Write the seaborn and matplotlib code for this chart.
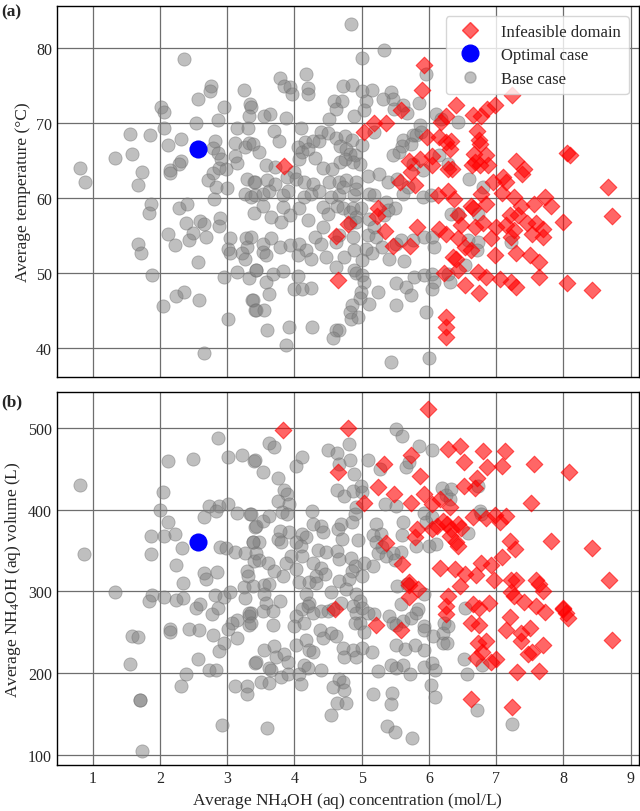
import pandas as pd
import numpy as np
import matplotlib
matplotlib.use('Agg')
import matplotlib.pyplot as plt
from matplotlib.lines import Line2D
import seaborn as sns

# data (x = NH4OH concentration, mol/L)
temp_base = [
    (2.36,78.6),(2.76,75.0),(2.74,74.3),(3.25,74.4),(2.57,73.2),(2.01,72.2),(2.06,71.5),(2.96,72.2),(3.34,72.6),(3.35,72.1),
    (3.32,70.9),(2.86,70.4),(2.53,70.0),(2.06,69.4),(3.14,69.3),(3.31,69.4),(1.55,68.5),(1.86,68.4),(2.31,67.9),(2.12,67.1),
    (2.82,67.6),(2.79,66.7),(2.86,66.0),(3.12,67.3),(3.26,66.8),(3.32,67.4),(3.38,67.2),(1.33,65.4),(1.59,65.9),(2.32,64.9),
    (2.28,64.5),(2.91,65.2),(3.11,65.6),(3.14,64.7),(0.81,64.0),(0.88,62.2),(1.73,63.5),(2.15,63.7),(2.15,63.4),(2.79,63.3),
    (2.88,64.0),(2.99,63.9),(2.72,62.4),(1.68,61.7),(3.30,62.6),(3.40,62.1),(2.84,61.5),(3.00,61.3),
    (1.87,59.2),(1.84,58.0),(2.29,58.7),(2.40,59.2),(2.81,59.9),(3.26,60.5),(3.35,60.2),(3.40,58.0),(2.39,56.6),(2.60,56.9),
    (2.66,56.5),(2.90,57.3),(2.88,56.3),(2.12,55.2),(2.50,55.3),(2.43,54.4),(2.69,54.8),(2.23,53.7),(3.05,54.7),(3.28,54.7),
    (3.30,53.4),(3.02,53.2),(3.05,52.6),(3.22,52.6),(3.27,51.8),(1.68,53.8),(1.72,52.7),(2.56,51.5),(3.14,50.1),(2.95,49.5),
    (3.32,49.3),(3.43,50.4),(1.89,49.7),(2.24,46.9),(2.36,47.4),(2.58,46.4),(2.04,45.6),(3.37,46.4),(3.41,45.0),(3.02,43.9),
    (2.66,39.3),
    (4.84,83.3),(5.34,79.8),(5.00,78.7),(3.79,76.0),(3.85,75.0),(3.94,74.8),(3.96,73.9),(4.18,76.5),(4.20,74.7),(4.21,73.9),
    (4.72,74.9),(4.85,75.1),(5.01,74.3),(5.16,74.4),(5.43,74.2),(5.46,73.2),(5.32,73.2),(4.59,73.0),(4.71,72.9),(4.62,71.9),
    (5.07,73.0),(5.04,71.7),(4.88,70.9),(5.48,71.9),(5.62,72.4),(5.67,71.3),(5.86,72.7),(5.96,76.5),(3.55,71.0),(3.64,71.2),
    (3.88,70.7),(4.51,70.6),(4.10,69.4),(3.70,68.9),(3.77,67.6),(4.40,68.8),(4.50,68.7),(4.62,68.0),(4.75,68.3),(4.86,67.7),
    (4.16,67.5),(4.27,67.6),(4.37,67.6),(5.00,67.1),(3.48,66.2),(4.05,66.8),(4.12,66.1),(4.21,66.6),(4.07,65.2),(4.30,65.3),
    (4.68,67.0),(4.77,66.6),(4.82,65.9),(4.90,65.7),(4.98,64.6),(4.87,64.8),(4.76,65.2),(4.68,64.8),(4.42,64.0),(4.56,63.9),
    (3.58,64.4),(3.71,64.2),(4.00,63.5),(3.89,62.8),(4.02,62.6),(3.42,62.2),(3.60,62.4),(3.71,61.9),(4.15,62.1),(4.28,61.9),
    (4.51,62.1),(4.66,62.2),(4.77,62.4),(4.92,62.2),(5.10,63.0),(5.26,63.2),(5.39,62.1),(5.53,62.6),(5.61,67.7),(5.76,68.4),
    (5.81,68.4),(5.74,67.2),(5.60,67.0),(5.55,66.1),(5.47,65.8),(5.87,69.8),(5.89,68.8),(5.19,68.8),(5.91,63.8),(5.76,64.6),
    (6.10,71.2),(6.18,70.6),(6.15,65.7),(6.44,70.1),(6.59,62.6),(6.28,64.6),
    (3.41,60.4),(3.53,60.6),(3.63,61.0),(3.83,60.4),(3.90,61.0),(3.53,59.0),(3.65,57.5),(3.80,56.8),(3.93,57.7),(3.83,58.8),
    (4.07,58.6),(4.15,60.1),(4.25,60.6),(4.37,61.0),(4.20,57.1),(4.42,58.8),(4.50,57.9),(4.64,59.0),(4.72,58.6),(4.82,58.1),
    (4.87,58.6),(4.99,58.6),(4.92,57.5),(4.54,60.1),(4.67,60.4),(4.89,60.4),(4.92,61.2),(4.72,61.5),(5.11,60.6),(5.19,60.4),
    (5.36,59.5),(5.49,58.6),(5.11,57.2),(5.34,57.7),(5.39,58.4),(5.61,60.6),(5.69,61.5),(5.91,60.2),(6.03,60.4),(3.36,54.8),
    (3.53,53.9),(3.65,54.6),(3.78,53.5),(3.93,53.7),(4.07,53.9),(4.17,53.0),(4.25,51.9),(4.05,52.4),(3.53,52.8),(3.58,52.4),
    (4.42,56.1),(4.30,54.8),(4.40,53.9),(4.47,52.1),(4.62,50.8),(4.74,52.1),(4.89,53.0),(5.01,51.7),(4.89,50.4),(4.92,50.0),
    (5.00,49.7),(5.04,48.8),(4.62,54.1),(4.67,55.0),(4.87,54.8),(4.82,56.6),(4.92,56.8),(5.09,55.0),(5.19,56.1),(5.21,54.8),
    (5.31,53.5),(5.16,52.6),(5.06,53.2),(5.41,51.9),(5.63,51.6),(5.51,53.9),(5.58,54.4),(5.76,54.4),(5.93,54.8),(6.05,54.8),
    (6.07,53.5),(3.43,50.4),(3.58,48.8),(3.68,49.9),(3.83,50.3),(3.63,47.2),(3.38,46.4),(3.43,45.0),(3.55,45.0),(4.00,47.9),
    (4.12,47.9),(4.25,48.0),(4.06,49.6),(4.99,47.5),(4.97,46.6),(5.11,45.9),(5.24,47.5),(4.86,45.7),(4.83,44.8),(4.84,43.9),
    (4.94,44.1),(5.51,48.7),(5.66,48.1),(5.73,47.0),(5.51,45.7),(5.78,49.5),(5.93,49.7),(6.05,49.9),(6.07,48.8),(6.04,47.9),
    (5.96,44.8),(3.59,42.4),(3.92,42.8),(4.26,42.8),(4.62,42.4),(4.67,42.4),(4.58,41.3),(3.88,40.4),(5.44,38.1),(6.00,38.7),
    (6.33,57.8),(6.43,57.9),(6.73,57.9),(6.58,54.4),(6.73,54.1),(6.71,53.0),(7.22,54.1),(6.53,51.0),(6.28,49.9),(6.31,48.8),
    (6.80,61.5),
]

temp_infeasible = [
    (5.92,77.8),(5.90,74.4),(5.59,71.7),(5.19,70.0),(5.36,70.0),(5.04,68.8),(5.97,68.2),(6.15,68.2),(6.25,67.5),(6.18,70.2),
    (6.25,70.9),(5.70,65.0),(5.87,65.2),(6.04,65.6),(6.04,64.4),(6.28,63.9),(5.74,63.5),(5.80,61.7),(5.57,62.2),(3.84,64.3),
    (7.24,73.8),(6.40,72.4),(6.65,71.1),(6.78,71.0),(6.87,71.9),(6.98,72.4),(6.71,69.0),(6.74,67.7),(6.76,67.2),(6.67,65.9),
    (6.85,65.7),(6.68,64.8),(6.76,64.4),(6.88,64.4),(6.64,64.4),(6.33,67.6),(6.31,66.6),(6.35,63.9),(7.30,65.0),(7.42,63.9),
    (7.39,63.2),(7.10,62.8),(7.15,62.2),(6.95,62.2),(8.06,66.0),(8.10,65.8),(8.66,61.5),
    (4.62,54.9),(4.79,56.5),(5.24,58.7),(5.23,57.6),(5.35,55.6),(5.47,53.6),(5.72,53.6),(5.82,56.1),(6.15,55.8),(6.25,55.2),
    (6.14,60.4),(4.65,49.1),(6.22,50.0),(6.25,44.1),(6.25,42.8),(6.25,41.4),
    (8.72,57.6),(8.00,56.8),(6.28,61.0),(6.38,59.9),(6.78,60.6),(6.85,59.2),(6.63,58.9),(6.65,58.6),(7.08,60.7),(7.27,60.2),
    (7.37,59.0),(7.57,59.2),(7.72,60.1),(7.81,59.0),(7.20,57.7),(7.32,57.7),(6.43,57.7),(6.48,56.4),(6.68,56.1),(6.80,56.6),
    (7.00,56.1),(7.15,56.4),(7.27,55.7),(7.46,56.6),(7.59,56.6),(7.69,55.9),(7.54,55.2),(7.69,54.8),(6.93,54.6),(7.22,54.8),
    (6.43,54.6),(6.53,53.5),(6.63,53.0),(6.98,52.4),(7.30,52.6),(7.50,52.4),(7.64,51.5),(6.36,52.1),(6.41,51.9),(6.43,50.4),
    (6.73,50.1),(6.85,49.5),(7.05,49.2),(7.22,48.8),(7.30,48.1),(7.64,49.4),(6.53,48.4),(6.75,47.3),(8.06,48.6),(8.43,47.7),
]

temp_optimal = [(2.57, 66.5)]

vol_base = [
    (2.87,487.7),(2.12,459.0),(2.50,461.5),(3.02,464.3),(3.22,467.2),(3.40,459.0),(0.81,430.7),(2.05,422.1),(2.00,400.0),(2.12,385.2),
    (2.73,404.9),(2.88,404.9),(2.83,398.8),(3.02,407.0),(2.65,390.6),(3.14,395.9),(3.34,395.1),(3.41,378.3),(1.87,368.0),(2.06,367.2),
    (2.23,370.5),(2.33,353.3),(2.89,353.7),(2.99,353.3),(3.12,347.9),(3.26,347.5),(3.39,359.8),(0.87,345.5),(1.87,345.5),(2.24,332.4),
    (2.65,323.0),(2.85,323.8),(2.69,314.8),(3.29,325.0),(3.31,318.9),(3.40,337.3),(2.34,309.8),
    (1.33,299.6),(1.89,295.9),(1.84,287.6),(2.06,293.0),(2.24,289.6),(2.35,292.1),(2.54,280.1),(2.59,284.3),(2.77,272.7),(2.86,280.1),
    (2.82,295.4),(2.95,292.5),(3.05,299.6),(3.25,305.0),(3.27,291.3),(3.33,269.8),(3.36,273.9),(3.32,259.4),(3.14,264.8),(3.07,261.5),
    (3.01,254.0),(3.14,242.9),(2.15,254.0),(2.15,249.9),(2.43,254.0),(2.58,253.2),(2.79,247.0),(2.95,236.6),(2.88,227.5),(1.59,244.9),
    (1.68,244.1),(1.55,211.0),(2.57,216.8),(2.39,199.4),(2.32,183.6),(2.73,204.3),(2.83,204.3),(3.11,183.6),(3.30,184.4),(3.30,174.5),
    (3.41,211.8),(1.70,167.5),(1.71,166.5),(2.92,136.9),(1.73,105.0),
    (5.51,499.2),(5.60,490.2),(3.62,481.6),(3.70,476.2),(3.41,460.2),(3.53,446.7),(3.75,438.5),(4.03,452.9),(4.12,463.9),(4.50,473.4),
    (4.63,469.7),(4.81,480.7),(4.83,460.2),(4.66,456.1),(4.88,443.4),(5.09,461.1),(5.28,449.2),(5.66,452.0),(5.71,458.2),(5.86,477.9),
    (6.04,473.4),(3.84,424.6),(3.89,419.3),(3.76,411.1),(3.92,407.0),(3.82,396.7),(3.89,394.7),(4.26,398.8),(4.28,382.4),(4.40,380.3),
    (4.42,372.1),(4.12,370.1),(4.17,366.0),(3.92,372.1),(3.78,374.2),(3.75,364.1),(3.80,360.0),(3.36,394.7),(3.53,386.5),(3.63,392.6),
    (3.43,380.3),(3.48,360.0),(3.38,360.0),(4.63,424.6),(4.74,417.2),(4.87,423.4),(4.99,429.5),(5.01,421.3),(4.91,402.9),(4.90,394.7),
    (4.86,384.4),(4.69,382.4),(4.65,376.2),(4.71,364.1),(4.94,363.1),(5.21,382.4),(5.17,368.9),(5.29,370.1),(5.31,353.7),(5.24,347.5),
    (5.36,343.4),(5.21,359.8),(5.17,331.1),(5.35,407.0),(5.51,404.9),(5.61,384.4),(5.60,369.3),(5.92,395.9),(5.95,384.4),(6.04,390.6),
    (6.00,355.7),(6.11,357.8),(5.81,355.7),(6.20,426.2),(6.26,418.0),(5.59,348.4),(5.47,347.5),(5.50,338.5),(4.35,350.4),(4.47,348.4),
    (4.64,349.6),(4.66,339.3),(4.84,341.4),(4.90,331.1),(5.04,335.2),(4.85,325.0),(4.02,360.0),(4.10,355.7),(4.12,343.4),(3.95,343.4),
    (3.88,335.2),(4.02,327.0),(3.83,318.9),(3.43,347.5),(3.48,338.5),(3.61,335.2),(3.70,325.0),(4.27,335.2),(4.40,329.1),(4.45,320.9),
    (4.32,318.9),(4.66,312.7),(4.81,314.8),(5.00,318.9),
    (3.55,307.9),(3.63,309.1),(3.38,307.0),(3.55,296.7),(3.58,286.3),(3.53,276.0),(3.68,276.0),(3.78,288.4),(3.33,273.9),(3.36,261.5),
    (3.68,259.4),(4.07,311.2),(4.22,312.0),(4.32,310.4),(4.17,296.7),(4.22,286.3),(4.12,278.1),(4.02,269.8),(4.00,257.3),(4.15,261.5),
    (4.27,273.9),(4.20,282.2),(4.77,302.9),(4.54,298.8),(4.69,286.3),(4.50,276.0),(4.40,276.0),(4.57,278.1),(4.92,296.7),(4.97,288.4),
    (4.87,282.2),(4.92,273.9),(5.01,280.1),(5.09,273.9),(4.97,261.5),(4.90,261.5),(5.04,249.9),(5.19,271.8),(4.38,253.2),(4.54,249.1),
    (4.62,244.9),(4.42,242.9),(4.17,240.8),(4.22,228.4),(4.27,226.3),(4.02,234.6),(4.15,209.7),(4.20,205.6),(4.40,204.3),(4.72,230.4),
    (4.87,228.4),(4.92,220.1),(4.74,219.3),(5.01,230.4),(5.16,226.3),(3.55,228.4),(3.70,232.5),(3.73,220.1),(3.85,223.4),(3.90,213.9),
    (3.43,213.9),(3.63,205.6),(3.65,203.5),(3.50,189.0),(3.63,187.8),(3.80,195.2),(3.90,199.4),(4.07,199.4),(4.10,187.0),(4.67,193.2),
    (4.72,189.0),(4.57,182.8),(4.74,179.5),(4.63,162.9),(4.77,162.9),(4.55,148.4),(5.24,201.9),(5.43,209.5),(5.51,205.6),(5.62,209.7),
    (5.72,199.4),(5.92,206.8),(6.04,211.8),(6.09,203.5),(5.17,174.5),(5.45,175.4),(5.43,162.1),(6.03,184.9),(6.09,170.4),(5.38,135.2),
    (5.50,128.2),(5.75,120.3),(3.59,133.1),(5.52,307.0),(5.67,309.1),(5.41,269.8),(5.46,261.5),(5.51,259.4),(5.61,263.6),(5.73,267.7),
    (5.84,278.9),(5.92,257.3),(5.92,253.2),(6.06,244.9),(6.21,236.6),(5.92,228.4),(5.80,234.6),(5.65,229.2),(5.51,234.6),(5.58,284.3),
    (5.81,273.9),(5.93,296.7),(6.21,249.1),(6.23,261.5),
    (6.33,425.4),(6.73,428.7),(6.31,413.1),(6.76,398.8),(6.78,394.7),(6.58,371.3),
    (6.53,280.1),(6.28,257.3),(6.27,236.6),(6.52,217.2),(6.57,199.4),(6.79,209.7),(6.71,154.7),(7.23,138.1),
]

vol_infeasible = [
    (3.83,498.0),(4.80,500.0),(5.98,523.8),(5.74,467.2),(5.34,455.7),(4.65,446.7),(5.87,441.0),(5.24,428.3),(5.48,418.9),(5.92,418.9),
    (5.73,407.8),(5.04,408.2),(6.28,473.8),(6.05,407.0),(6.17,413.1),(6.21,386.5),(6.27,382.4),(6.12,380.3),(6.04,376.2),(5.82,376.2),
    (5.79,366.0),(5.36,359.0),(5.60,333.2),(6.16,328.3),(5.71,311.5),
    (6.46,477.5),(6.80,472.1),(7.13,472.1),(6.52,458.2),(6.86,452.5),(7.09,453.3),(7.57,455.3),(8.09,446.7),(6.71,438.5),(6.52,428.7),
    (6.68,426.2),(7.52,407.8),(6.31,402.9),(6.65,390.6),(6.85,389.3),(6.98,393.4),(7.15,391.8),(7.06,384.4),(6.44,382.4),(6.48,377.0),
    (6.33,376.2),(6.31,368.0),(6.41,359.8),(6.43,355.7),(7.20,361.9),(7.28,351.6),(7.81,361.5),(8.43,353.3),(7.09,342.6),(6.77,335.2),
    (6.93,332.0),(6.39,327.0),(6.54,320.9),(6.70,319.7),(6.97,313.9),(7.22,313.9),(7.30,313.9),(7.59,313.9),(8.68,313.9),
    (5.71,307.9),(5.84,302.9),(5.71,292.5),(4.61,278.1),(5.21,259.4),(5.58,252.4),(6.28,294.6),(6.25,282.2),(6.25,271.8),
    (8.72,240.8),(8.00,278.9),(8.04,273.9),(8.07,267.7),(6.46,307.0),(7.69,300.8),(7.64,309.1),(6.65,284.3),(6.75,280.1),(6.90,285.5),
    (7.22,298.8),(7.27,294.6),(7.42,287.2),(7.59,282.2),(7.72,274.8),(7.99,280.1),(7.21,268.9),(7.15,253.2),(7.37,249.1),(7.50,255.3),
    (6.63,261.5),(6.75,259.4),(6.73,236.6),(6.85,238.7),(6.79,226.3),(6.70,218.0),(6.93,213.9),(7.00,216.8),(7.37,238.7),(7.47,223.4),
    (7.54,226.3),(7.69,234.6),(7.31,201.0),(7.64,202.7),(6.63,168.3),(7.24,158.0),
]

vol_optimal = [(2.57, 359.8)]

x_ticks = [1, 2, 3, 4, 5, 6, 7, 8, 9]
temp_ticks = [40, 50, 60, 70, 80]
vol_ticks = [100, 200, 300, 400, 500]

sns.set_style('white')
plt.rcParams['font.family'] = ['Liberation Serif', 'DejaVu Serif']
plt.rcParams['mathtext.fontset'] = 'custom'
plt.rcParams['mathtext.rm'] = 'Liberation Serif'
plt.rcParams['mathtext.it'] = 'Liberation Serif:italic'


def to_df(pairs, col):
    return pd.DataFrame(pairs, columns=['conc', col])


fig = plt.figure(figsize=(6.4, 8.12), dpi=100)
ax1 = fig.add_axes([0.089, 0.5345, 0.909, 0.4565])
ax2 = fig.add_axes([0.089, 0.0567, 0.909, 0.4593])

panels = [
    (ax1, 'temp', temp_base, temp_infeasible, temp_optimal, temp_ticks, (36.1, 85.6), 'Average temperature (°C)'),
    (ax2, 'vol', vol_base, vol_infeasible, vol_optimal, vol_ticks, (87.5, 544), 'Average NH$_4$OH (aq) volume (L)'),
]

for ax, col, base, infeas, opt, yt, ylim, ylabel in panels:
    sns.scatterplot(data=to_df(base, col), x='conc', y=col, ax=ax, color='gray', alpha=0.5,
                    s=90, edgecolor='#707070', linewidth=0.6, zorder=3)
    sns.scatterplot(data=to_df(infeas, col), x='conc', y=col, ax=ax, color='red', alpha=0.6,
                    marker='D', s=72, edgecolor='red', linewidth=0.8, zorder=4)
    sns.scatterplot(data=to_df(opt, col), x='conc', y=col, ax=ax, color='blue',
                    s=170, edgecolor='blue', linewidth=0, zorder=5)
    ax.set_xlim(0.47, 9.12)
    ax.set_ylim(*ylim)
    ax.set_xticks(x_ticks)
    ax.set_yticks(yt)
    ax.grid(True, color='#6e6e6e', linewidth=0.9, zorder=0)
    ax.set_axisbelow(True)
    ax.tick_params(direction='in', length=4, width=0.8, labelsize=11.5, color='black')
    for sp in ax.spines.values():
        sp.set_color('black')
        sp.set_linewidth(1.0)
    ax.set_ylabel(ylabel, fontsize=12.5, labelpad=4)
    ax.set_xlabel('')

ax1.tick_params(labelbottom=False)
ax2.set_xlabel('Average NH$_4$OH (aq) concentration (mol/L)', fontsize=12.5, labelpad=3)

handles = [
    Line2D([], [], linestyle='none', marker='D', markersize=8.5, color='red', alpha=0.6, markeredgecolor='red'),
    Line2D([], [], linestyle='none', marker='o', markersize=12, color='blue'),
    Line2D([], [], linestyle='none', marker='o', markersize=8, color='gray', alpha=0.5),
]
ax1.legend(handles, ['Infeasible domain', 'Optimal case', 'Base case'], loc='upper right',
           fontsize=12, borderaxespad=0.6, handletextpad=0.9, labelspacing=0.45, borderpad=0.45)

fig.text(0.002, 0.985, '(a)', fontsize=12.5, fontweight='bold', va='center', ha='left')
fig.text(0.002, 0.505, '(b)', fontsize=12.5, fontweight='bold', va='center', ha='left')

fig.savefig('out.png', dpi=100)
